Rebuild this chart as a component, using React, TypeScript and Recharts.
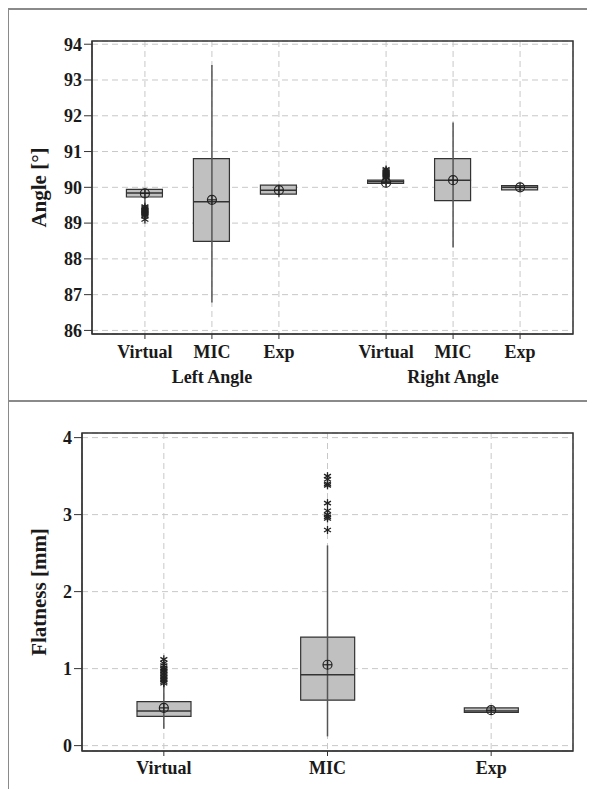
import React from 'react';
import { ComposedChart, Bar, Scatter, XAxis, YAxis, CartesianGrid, ReferenceArea } from 'recharts';

// ---------- Angle chart data ----------
const angleCategories = ['Virtual', 'MIC', 'Exp', 'Virtual', 'MIC', 'Exp'];
const anglePositions = [1, 2, 3, 4.6, 5.6, 6.6];
const angleGroups = ['Left Angle', 'Right Angle'];
const angleGroupPositions = [2, 5.6];
const angleTicks = [86, 87, 88, 89, 90, 91, 92, 93, 94];
const angleQ1 = [89.73, 88.49, 89.81, 90.11, 89.63, 89.93];
const angleQ3 = [89.94, 90.8, 90.06, 90.2, 90.8, 90.05];
const angleMedian = [89.84, 89.6, 89.92, 90.16, 90.2, 90.0];
const angleMean = [89.83, 89.65, 89.92, 90.13, 90.2, 90.0];
const angleWhiskerLow = [89.55, 86.78, 89.72, 90.05, 88.32, 89.9];
const angleWhiskerHigh = [89.97, 93.42, 90.08, 90.23, 91.81, 90.07];
const angleOutliers = [
  [89.46, 89.43, 89.4, 89.37, 89.34, 89.31, 89.28, 89.25, 89.22, 89.19, 89.1],
  [],
  [],
  [90.26, 90.29, 90.32, 90.35, 90.38, 90.41, 90.44, 90.47, 90.5],
  [],
  [],
];

// ---------- Flatness chart data ----------
const flatCategories = ['Virtual', 'MIC', 'Exp'];
const flatPositions = [1, 2, 3];
const flatTicks = [0, 1, 2, 3, 4];
const flatQ1 = [0.38, 0.59, 0.43];
const flatQ3 = [0.57, 1.41, 0.49];
const flatMedian = [0.45, 0.92, 0.45];
const flatMean = [0.49, 1.05, 0.46];
const flatWhiskerLow = [0.22, 0.12, 0.42];
const flatWhiskerHigh = [0.79, 2.6, 0.5];
const flatOutliers = [
  [0.81, 0.83, 0.85, 0.87, 0.89, 0.91, 0.93, 0.95, 0.97, 0.99, 1.01, 1.04, 1.07, 1.12],
  [2.8, 2.95, 2.97, 3.0, 3.05, 3.15, 3.38, 3.4, 3.46, 3.5],
  [],
];

const FONT = '"Liberation Serif", "Times New Roman", serif';
const tickStyle = { fontFamily: FONT, fontSize: 18, fontWeight: 700, fill: '#1a1a1a' };
const AXIS = '#333';

const Nothing = () => <g />;

const starShape = (p: any) => {
  const r = 4;
  const { cx, cy } = p;
  const arms = [90, 30, 150].map((a) => {
    const rad = (a * Math.PI) / 180;
    return { dx: r * Math.cos(rad), dy: r * Math.sin(rad) };
  });
  return (
    <g stroke="#222" strokeWidth={1.3}>
      {arms.map((d, i) => (
        <line key={i} x1={cx - d.dx} y1={cy - d.dy} x2={cx + d.dx} y2={cy + d.dy} />
      ))}
    </g>
  );
};

const meanShape = (p: any) => {
  const { cx, cy } = p;
  const r = 4.5;
  return (
    <g stroke="#222" strokeWidth={1.2} fill="none">
      <circle cx={cx} cy={cy} r={r} />
      <line x1={cx - r} x2={cx + r} y1={cy} y2={cy} />
      <line x1={cx} x2={cx} y1={cy - r} y2={cy + r} />
    </g>
  );
};

const medianShape = (half: number) => (p: any) => (
  <line x1={p.cx - half} x2={p.cx + half} y1={p.cy} y2={p.cy} stroke="#333" strokeWidth={1.5} />
);

const yTitle = (text: string, xOff: number) => (props: any) => {
  const vb = props.viewBox || {};
  const cx = vb.x + xOff;
  const cy = vb.y + vb.height / 2;
  return (
    <text
      x={cx}
      y={cy}
      transform={`rotate(-90 ${cx} ${cy})`}
      textAnchor="middle"
      dominantBaseline="central"
      style={{ fontFamily: FONT, fontSize: 21, fontWeight: 700, fill: '#1a1a1a' }}
    >
      {text}
    </text>
  );
};

type BoxSet = {
  positions: number[];
  q1: number[];
  q3: number[];
  median: number[];
  mean: number[];
  wlo: number[];
  whi: number[];
  outliers: number[][];
};

function renderSeries(s: BoxSet, half: number) {
  const whiskers = s.positions.map((x, i) => (
    <Scatter
      key={'w' + i}
      data={[
        { x, y: s.wlo[i] },
        { x, y: s.whi[i] },
      ]}
      dataKey="y"
      line={{ stroke: '#555', strokeWidth: 1.5 }}
      shape={Nothing}
      isAnimationActive={false}
    />
  ));
  const medians = s.positions.map((x, i) => ({ x, y: s.median[i] }));
  const means = s.positions.map((x, i) => ({ x, y: s.mean[i] }));
  const outs: { x: number; y: number }[] = [];
  s.positions.forEach((x, i) => s.outliers[i].forEach((v) => outs.push({ x, y: v })));
  return [
    ...whiskers,
    <Bar key="box" dataKey="box" fill="#c0c0c0" stroke="#333" strokeWidth={1.2} barSize={half * 2} isAnimationActive={false} />,
    <Scatter key="med" data={medians} dataKey="y" shape={medianShape(half)} isAnimationActive={false} />,
    <Scatter key="mean" data={means} dataKey="y" shape={meanShape} isAnimationActive={false} />,
    <Scatter key="out" data={outs} dataKey="y" shape={starShape} isAnimationActive={false} />,
  ];
}

const angleSet: BoxSet = {
  positions: anglePositions,
  q1: angleQ1,
  q3: angleQ3,
  median: angleMedian,
  mean: angleMean,
  wlo: angleWhiskerLow,
  whi: angleWhiskerHigh,
  outliers: angleOutliers,
};
const flatSet: BoxSet = {
  positions: flatPositions,
  q1: flatQ1,
  q3: flatQ3,
  median: flatMedian,
  mean: flatMean,
  wlo: flatWhiskerLow,
  whi: flatWhiskerHigh,
  outliers: flatOutliers,
};

const angleRows = anglePositions.map((x, i) => ({ x, box: [angleQ1[i], angleQ3[i]] }));
const flatRows = flatPositions.map((x, i) => ({ x, box: [flatQ1[i], flatQ3[i]] }));

const angleXDomain: [number, number] = [0.21, 7.39];
const angleYDomain: [number, number] = [85.9, 94.09];
const flatXDomain: [number, number] = [0.5, 3.5];
const flatYDomain: [number, number] = [-0.07, 4.06];

function AngleChart() {
  return (
    <ComposedChart width={587} height={393} data={angleRows} margin={{ top: 33, right: 22, bottom: 15, left: 0 }}>
      <CartesianGrid stroke="#c8c8c8" strokeDasharray="6 4" />
      <XAxis
        dataKey="x"
        type="number"
        domain={angleXDomain}
        ticks={anglePositions}
        tickFormatter={(v: number) => angleCategories[anglePositions.indexOf(v)] ?? ''}
        interval={0}
        allowDataOverflow
        height={22}
        tickSize={5}
        tickMargin={6}
        stroke={AXIS}
        tick={tickStyle}
      />
      <XAxis
        xAxisId="grp"
        dataKey="x"
        type="number"
        domain={angleXDomain}
        ticks={angleGroupPositions}
        tickFormatter={(v: number) => angleGroups[angleGroupPositions.indexOf(v)] ?? ''}
        interval={0}
        allowDataOverflow
        height={30}
        tickSize={0}
        tickLine={false}
        axisLine={false}
        tickMargin={14}
        tick={tickStyle}
      />
      <YAxis
        dataKey="y"
        type="number"
        domain={angleYDomain}
        ticks={angleTicks}
        interval={0}
        allowDataOverflow
        width={84}
        tickSize={8}
        stroke={AXIS}
        tick={tickStyle}
        label={{ content: yTitle('Angle [°]', 31) }}
      />
      {renderSeries(angleSet, 18)}
      <ReferenceArea
        x1={angleXDomain[0]}
        x2={angleXDomain[1]}
        y1={angleYDomain[0]}
        y2={angleYDomain[1]}
        fill="none"
        stroke={AXIS}
        strokeWidth={1.5}
        ifOverflow="visible"
      />
    </ComposedChart>
  );
}

function FlatChart() {
  return (
    <ComposedChart width={587} height={388} data={flatRows} margin={{ top: 32, right: 22, bottom: 8, left: 0 }}>
      <CartesianGrid stroke="#c8c8c8" strokeDasharray="6 4" />
      <XAxis
        dataKey="x"
        type="number"
        domain={flatXDomain}
        ticks={flatPositions}
        tickFormatter={(v: number) => flatCategories[flatPositions.indexOf(v)] ?? ''}
        interval={0}
        allowDataOverflow
        height={30}
        tickSize={5}
        tickMargin={5}
        stroke={AXIS}
        tick={tickStyle}
      />
      <YAxis
        dataKey="y"
        type="number"
        domain={flatYDomain}
        ticks={flatTicks}
        interval={0}
        allowDataOverflow
        width={74}
        tickSize={8}
        stroke={AXIS}
        tick={tickStyle}
        label={{ content: yTitle('Flatness [mm]', 31) }}
      />
      {renderSeries(flatSet, 27)}
      <ReferenceArea
        x1={flatXDomain[0]}
        x2={flatXDomain[1]}
        y1={flatYDomain[0]}
        y2={flatYDomain[1]}
        fill="none"
        stroke={AXIS}
        strokeWidth={1.5}
        ifOverflow="visible"
      />
    </ComposedChart>
  );
}

export default function App() {
  return (
    <div style={{ position: 'relative', width: 587, height: 781, background: '#fff' }}>
      <div style={{ position: 'absolute', left: -1, top: 0, width: 2, height: 781, background: '#8a8a8a' }} />
      <div style={{ position: 'absolute', left: -1, top: 0, width: 588, height: 2, background: '#8a8a8a' }} />
      <div style={{ position: 'absolute', left: -1, top: 392, width: 588, height: 2, background: '#8a8a8a' }} />
      <div style={{ position: 'absolute', left: 0, top: 0 }}>
        <AngleChart />
      </div>
      <div style={{ position: 'absolute', left: 0, top: 393 }}>
        <FlatChart />
      </div>
    </div>
  );
}
